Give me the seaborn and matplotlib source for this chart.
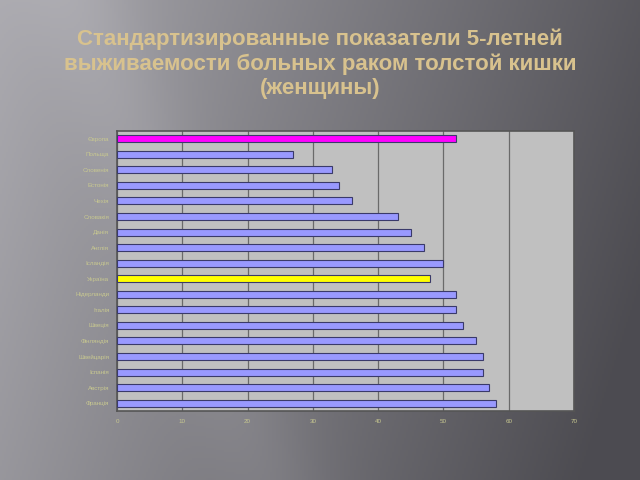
import numpy as np
import pandas as pd
import matplotlib
matplotlib.use('Agg')
import matplotlib.pyplot as plt
import seaborn as sns

countries = ['Європа', 'Польща', 'Словенія', 'Естонія', 'Чехія', 'Словакія', 'Данія',
             'Англія', 'Ісландія', 'Україна', 'Нідерланди', 'Італія', 'Швеція',
             'Фінляндія', 'Швейцарія', 'Іспанія', 'Австрія', 'Франція']
survival = [52, 27, 33, 34, 36, 43, 45, 47, 50, 48, 52, 52, 53, 55, 56, 56, 57, 58]
bar_colors = ['#ff00ff'] + ['#9999ff'] * 8 + ['#ffff00'] + ['#9999ff'] * 8

df = pd.DataFrame({'country': countries, 'value': survival})

sns.set_style('white')
plt.rcParams['font.family'] = ['Liberation Sans', 'DejaVu Sans']

fig = plt.figure(figsize=(6.4, 4.8), dpi=100)

# gradient background, light on the left, dark on the right
bg = fig.add_axes([0, 0, 1, 1])
yy, xx = np.mgrid[0:1:240j, 0:1:320j]
d = xx * 0.85 + yy * 0.2
shade = np.clip(0.67 - 0.38 * d, 0.30, 0.68)
streak = np.exp(-((xx - 0.12 - yy * 0.3) ** 2) / 0.008) * 0.04
img = np.dstack([shade + streak, shade + streak - 0.004, shade + streak + 0.018])
bg.imshow(np.clip(img, 0, 1), extent=[0, 1, 0, 1], aspect='auto', origin='upper')
bg.axis('off')

fig.text(0.5, 0.94, 'Стандартизированные показатели 5-летней\n'
         'выживаемости больных раком толстой кишки\n(женщины)',
         ha='center', va='top', fontsize=16, fontweight='bold',
         color='#d8c28e', linespacing=1.2)

ax = fig.add_axes([117 / 640, 1 - 411 / 480, 457 / 640, 280 / 480])
ax.set_facecolor('#c0c0c0')
sns.barplot(data=df, y='country', x='value', hue='country', palette=bar_colors,
            legend=False, width=0.45, edgecolor='#3a3a6a', linewidth=0.8,
            saturation=1, ax=ax, zorder=3)
ax.set_xlim(0, 70)
ax.set_xticks(range(0, 71, 10))
ax.grid(axis='x', color='#6a6a6a', linewidth=0.9, zorder=0)
ax.set_axisbelow(True)
ax.set_xlabel('')
ax.set_ylabel('')
ax.tick_params(axis='both', labelsize=4.5, colors='#c8c890', length=2)
for sp in ax.spines.values():
    sp.set_color('#555555')
    sp.set_linewidth(1.2)

fig.savefig('out.png', dpi=100)
